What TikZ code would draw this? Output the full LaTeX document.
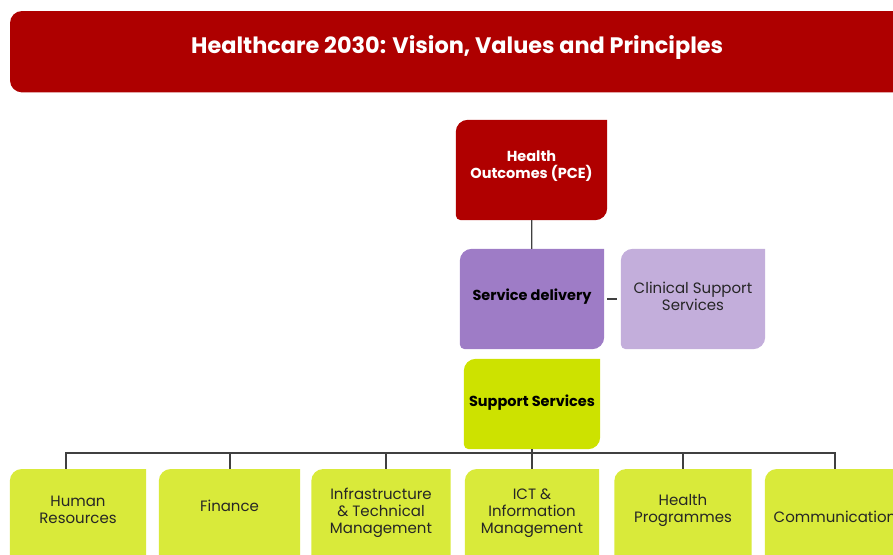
\documentclass[tikz,border=0pt]{standalone}
\usepackage{fontspec}
\setmainfont{Poppins}
\usetikzlibrary{backgrounds}
\definecolor{titlered}{RGB}{174,0,0}
\definecolor{hored}{RGB}{176,0,0}
\definecolor{sdpurple}{RGB}{158,124,198}
\definecolor{cspurple}{RGB}{195,174,219}
\definecolor{ssgreen}{RGB}{205,226,0}
\definecolor{boxgreen}{RGB}{217,234,58}
\definecolor{textdark}{RGB}{38,38,38}
\definecolor{linegray}{RGB}{64,64,64}
\tikzset{
  shapebox/.style={inner sep=0pt, align=center, minimum width=#1},
  topbox/.style={shapebox=#1, minimum height=100pt},
  leafbox/.style={shapebox=#1, minimum height=100pt, anchor=north, text=textdark,
    font=\fontsize{15}{17}\selectfont},
  conn/.style={draw=linegray, line width=1.3pt},
}
\begin{document}
\begin{tikzpicture}[x=1pt,y=-1pt]
\useasboundingbox (0,0) rectangle (893,554);
% title banner
\node[shapebox=910pt, minimum height=81pt, anchor=north west, text=white,
      font=\bfseries\fontsize{22.4}{26}\selectfont, text depth=14pt] (title) at (10,11)
  {\hspace*{-16pt}Healthcare 2030: Vision, Values and Principles};
% top boxes
\node[topbox=151pt, text=white, font=\bfseries\fontsize{14.5}{17}\selectfont, text depth=11pt]
  (ho) at (531.5,170) {Health\\Outcomes (PCE)};
\node[topbox=144pt, text=black, font=\bfseries\fontsize{14.5}{17}\selectfont, text depth=9pt]
  (sd) at (532,299) {Service delivery};
\node[topbox=144pt, text=textdark, font=\fontsize{15}{16.5}\selectfont, text depth=5pt]
  (cs) at (693,299) {Clinical Support\\Services};
\node[shapebox=136pt, minimum height=90pt, text=black, font=\bfseries\fontsize{14.5}{17}\selectfont, text depth=7pt]
  (ss) at (532,404) {Support Services};
% bottom boxes
\node[leafbox=136pt, text depth=19pt] (hr) at (78,469) {Human\\Resources};
\node[leafbox=141pt, text depth=27pt] (fin) at (229.5,469) {Finance};
\node[leafbox=139pt, text depth=16pt] (inf) at (381,469) {Infrastructure\\\& Technical\\Management};
\node[leafbox=134pt, text depth=16pt] (ict) at (532,469) {ICT \&\\Information\\Management};
\node[leafbox=137pt, text depth=22pt] (hp) at (683,469) {Health\\Programmes};
\node[leafbox=140pt, text depth=4pt] (com) at (835,469) {Communication};
% shapes on background
\begin{scope}[on background layer]
  \fill[titlered, rounded corners=12pt] (title.north east) -- (title.north west)
     -- (title.south west) -- (title.south east);
  \foreach \n/\c in {ho/hored, sd/sdpurple, cs/cspurple, ss/ssgreen,
                     hr/boxgreen, fin/boxgreen, inf/boxgreen, ict/boxgreen, hp/boxgreen, com/boxgreen}{
    \fill[\c] ([yshift=-12pt]\n.north west)
        .. controls ([yshift=-5.4pt]\n.north west) and ([xshift=5.4pt]\n.north west) .. ([xshift=12pt]\n.north west)
        -- (\n.north east)
        -- ([yshift=12pt]\n.south east)
        .. controls ([yshift=5.4pt]\n.south east) and ([xshift=-5.4pt]\n.south east) .. ([xshift=-12pt]\n.south east)
        -- ([xshift=5pt]\n.south west)
        .. controls ([xshift=2.2pt]\n.south west) and ([yshift=2.2pt]\n.south west) .. ([yshift=5pt]\n.south west)
        -- cycle;
  }
\end{scope}
% connectors
\coordinate (b1) at (66,453);
\coordinate (b2) at (230,453);
\coordinate (b3) at (386,453);
\coordinate (b4) at (532,453);
\coordinate (b5) at (683,453);
\coordinate (b6) at (835,453);
\draw[conn] (ho) -- (sd);
\draw[conn, shorten <=3pt, shorten >=4pt] (sd.east) -- (sd.east -| cs.west);
\draw[conn] (ss.south) -- (b4);
\draw[conn, line cap=rect] (b1) -- (b6);
\draw[conn] (b1) -- (b1 |- hr.north);
\draw[conn] (b2) -- (b2 |- fin.north);
\draw[conn] (b3) -- (b3 |- inf.north);
\draw[conn] (b4) -- (b4 |- ict.north);
\draw[conn] (b5) -- (b5 |- hp.north);
\draw[conn] (b6) -- (b6 |- com.north);
\end{tikzpicture}
\end{document}
